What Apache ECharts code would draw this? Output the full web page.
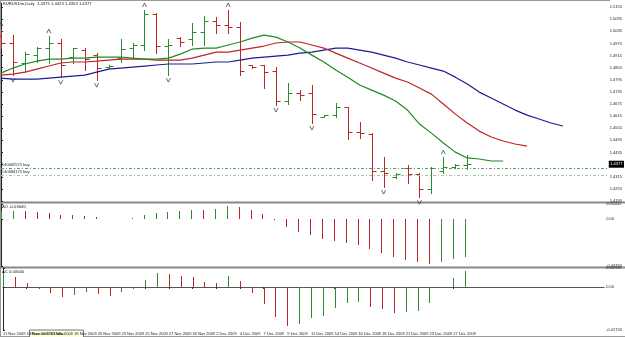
<!DOCTYPE html>
<html>
<head>
<meta charset="utf-8">
<script src="https://cdn.jsdelivr.net/npm/echarts@6.0.0/dist/echarts.min.js"></script>
<style>
  html, body { margin: 0; padding: 0; background: #fff; }
  #chart { width: 625px; height: 337px; }
</style>
</head>
<body>
<div id="chart"></div>
<script>
// EURUSDm daily bars, 11 Nov - 28 Dec 2009 (incl. sunday bars)
var dates = ['11 Nov 2009','12 Nov 2009','13 Nov 2009','15 Nov 2009','16 Nov 2009','17 Nov 2009','18 Nov 2009','19 Nov 2009',
  '20 Nov 2009','22 Nov 2009','23 Nov 2009','24 Nov 2009','25 Nov 2009','26 Nov 2009','27 Nov 2009','29 Nov 2009',
  '30 Nov 2009','1 Dec 2009','2 Dec 2009','3 Dec 2009','4 Dec 2009','6 Dec 2009','7 Dec 2009','8 Dec 2009',
  '9 Dec 2009','10 Dec 2009','11 Dec 2009','13 Dec 2009','14 Dec 2009','15 Dec 2009','16 Dec 2009','17 Dec 2009',
  '18 Dec 2009','20 Dec 2009','21 Dec 2009','22 Dec 2009','23 Dec 2009','24 Dec 2009','27 Dec 2009','28 Dec 2009'];

var open  = [1.5011,1.4977,1.4878,1.4917,1.4952,1.4977,1.4907,1.4942,1.4917,1.4858,1.4902,1.4952,1.4967,1.5120,1.4962,1.5001,1.4997,1.5031,1.5086,1.5066,
             1.5056,1.4868,1.4868,1.4838,1.4690,1.4729,1.4729,1.4611,1.4620,1.4660,1.4536,1.4526,1.4343,1.4314,1.4358,1.4328,1.4254,1.4343,1.4363,1.4375];
var high  = [1.5046,1.5016,1.4932,1.4957,1.5011,1.4997,1.4952,1.4952,1.4927,1.4868,1.4997,1.4977,1.5140,1.5125,1.4997,1.5006,1.5076,1.5110,1.5106,1.5140,
             1.5081,1.4868,1.4868,1.4858,1.4779,1.4744,1.4769,1.4620,1.4680,1.4660,1.4586,1.4531,1.4412,1.4333,1.4373,1.4333,1.4363,1.4412,1.4378,1.4423];
var low   = [1.4952,1.4818,1.4833,1.4883,1.4878,1.4808,1.4878,1.4843,1.4793,1.4853,1.4883,1.4907,1.4942,1.4927,1.4818,1.4962,1.4967,1.4967,1.5026,1.5026,
             1.4818,1.4853,1.4754,1.4670,1.4675,1.4695,1.4581,1.4611,1.4611,1.4502,1.4507,1.4299,1.4264,1.4309,1.4284,1.4214,1.4234,1.4333,1.4358,1.4353];
var close = [1.4977,1.4883,1.4922,1.4952,1.4977,1.4868,1.4952,1.4897,1.4853,1.4863,1.4947,1.4967,1.5120,1.4962,1.4967,1.4982,1.5031,1.5086,1.5066,1.5056,
             1.4838,1.4858,1.4833,1.4690,1.4729,1.4719,1.4625,1.4620,1.4660,1.4536,1.4531,1.4343,1.4333,1.4328,1.4328,1.4254,1.4358,1.4363,1.4373,1.4377];

// alligator lines (already shifted: lips +3, teeth +5, jaw +8)
var lips  = [1.4828,1.4853,1.4873,1.4887,1.4897,1.4897,1.4902,1.4902,1.4907,1.4907,1.4907,1.4902,1.4897,1.4897,1.4902,1.4922,1.4947,1.4952,1.4952,1.4967,
             1.4982,1.5001,1.5016,1.5006,1.4982,1.4952,1.4917,1.4883,1.4843,1.4808,1.4769,1.4744,1.4719,1.4690,1.4645,1.4576,1.4531,1.4482,1.4437,1.4408,
             1.4403,1.4393,1.4393];
var teeth = [1.4818,1.4823,1.4833,1.4848,1.4863,1.4878,1.4883,1.4883,1.4887,1.4892,1.4897,1.4897,1.4897,1.4892,1.4892,1.4892,1.4902,1.4917,1.4932,1.4932,
             1.4942,1.4952,1.4962,1.4977,1.4982,1.4982,1.4967,1.4952,1.4927,1.4902,1.4878,1.4853,1.4828,1.4803,1.4784,1.4754,1.4724,1.4675,1.4625,1.4581,
             1.4541,1.4512,1.4492,1.4477,1.4467];
var jaw   = [1.4803,1.4798,1.4798,1.4798,1.4803,1.4808,1.4813,1.4818,1.4833,1.4848,1.4853,1.4858,1.4863,1.4868,1.4873,1.4873,1.4873,1.4878,1.4883,1.4883,
             1.4892,1.4902,1.4907,1.4912,1.4917,1.4927,1.4932,1.4942,1.4952,1.4952,1.4942,1.4932,1.4917,1.4902,1.4883,1.4868,1.4853,1.4838,1.4808,1.4774,
             1.4734,1.4705,1.4675,1.4645,1.4620,1.4601,1.4581,1.4566];

// fractals (bar indexes)
var fractUp   = [0, 4, 12, 19, 37];
var fractDown = [1, 5, 8, 14, 23, 26, 32, 35];

// open orders
var orderPrices = [1.4358, 1.4323];
var orderNames  = ['#40082575 buy', '#40084175 buy'];

// awesome / accelerator oscillators
var ao = [0.0064,0.0065,0.0062,0.0056,0.0048,0.0033,0.0031,0.0024,0.0016,0.0003,0.0004,0.0006,0.0032,0.0048,0.0056,0.0064,0.0072,0.0070,0.0080,0.0104,
          0.0096,0.0072,0.0040,-0.0008,-0.0064,-0.0104,-0.0128,-0.0160,-0.0176,-0.0192,-0.0208,-0.0240,-0.0272,-0.0304,-0.0328,-0.0344,-0.0360,-0.0344,-0.0320,-0.0304];
var ac = [0.0056,0.0040,0.0016,-0.0008,-0.0024,-0.0040,-0.0032,-0.0020,-0.0028,-0.0036,-0.0020,-0.0008,0.0028,0.0056,0.0052,0.0044,0.0040,0.0020,0.0016,0.0044,
          0.0024,-0.0024,-0.0068,-0.0120,-0.0156,-0.0148,-0.0124,-0.0116,-0.0084,-0.0064,-0.0060,-0.0080,-0.0088,-0.0104,-0.0100,-0.0096,-0.0064,-0.0004,0.0036,0.0064];

var priceTicks = { min: 1.4195, max: 1.5175, step: 0.006 };
var aoRange = { min: -0.0376, max: 0.012 };
var acRange = { min: -0.0172, max: 0.0076 };

var UP = '#2f8a2f', DOWN = '#b82a2a';
var FONT = 'Liberation Sans';
var last = close.length - 1;

function pairs(arr) {
	var out = [];
	for (var i = 0; i < arr.length; i++) out.push([i, arr[i]]);
	return out;
}

var ohlc = [];
for (var i = 0; i < close.length; i++) {
	ohlc.push([i, open[i], high[i], low[i], close[i]]);
}

// histogram colour: green when rising
function histColors(arr) {
	var c = [];
	for (var i = 0; i < arr.length; i++) {
		c.push(i === 0 || arr[i] >= arr[i - 1] ? UP : DOWN);
	}
	return c;
}
var aoColors = histColors(ao);
var acColors = histColors(ac);

function renderBar(params, api) {
	var x = api.value(0);
	var pH = api.coord([x, api.value(2)]);
	var pL = api.coord([x, api.value(3)]);
	var pO = api.coord([x, api.value(1)]);
	var pC = api.coord([x, api.value(4)]);
	var cx = Math.round(pH[0]) + 0.5;
	var col = api.value(4) >= api.value(1) ? UP : DOWN;
	var st = { stroke: col, lineWidth: 1 };
	var yo = Math.round(pO[1]) + 0.5, yc = Math.round(pC[1]) + 0.5;
	return {
		type: 'group',
		children: [
			{ type: 'line', shape: { x1: cx, y1: Math.round(pH[1]), x2: cx, y2: Math.round(pL[1]) + 1 }, style: st },
			{ type: 'line', shape: { x1: cx - 4, y1: yo, x2: cx, y2: yo }, style: st },
			{ type: 'line', shape: { x1: cx, y1: yc, x2: cx + 4, y2: yc }, style: st }
		]
	};
}

function histRender(colors) {
	return function (params, api) {
		var i = api.value(0);
		var p0 = api.coord([i, 0]);
		var p1 = api.coord([i, api.value(1)]);
		var x = Math.round(p0[0]) + 0.5;
		return {
			type: 'line',
			shape: { x1: x, y1: Math.round(p0[1]), x2: x, y2: Math.round(p1[1]) },
			style: { stroke: colors[params.dataIndex], lineWidth: 1 }
		};
	};
}

var dateTicks = [];
for (var i = 0; i < dates.length; i += 2) dateTicks.push(i);

function xAxisFor(gi, showLabels) {
	return {
		type: 'value', gridIndex: gi, min: 0, max: 50.75,
		show: showLabels,
		axisLine: { show: true, lineStyle: { color: '#555', width: 1 } },
		axisTick: { show: true, length: 2, customValues: dateTicks, lineStyle: { color: '#333' } },
		axisLabel: {
			show: true, customValues: dateTicks, fontSize: 4, color: '#222', fontFamily: FONT,
			align: 'left', margin: 1.5,
			formatter: function (v) { return dates[Math.round(v)] || ''; }
		},
		splitLine: { show: false }
	};
}

function oscAxis(gi, range) {
	return {
		type: 'value', gridIndex: gi, position: 'right', min: range.min, max: range.max,
		axisLine: { show: true, lineStyle: { color: '#222' } },
		axisTick: { show: true, length: 2, customValues: [range.max, 0, range.min] },
		axisLabel: {
			customValues: [range.max, 0, range.min], fontSize: 4, color: '#222', fontFamily: FONT, margin: 2,
			formatter: function (v) { return v === 0 ? '0.00' : v.toFixed(5); }
		},
		splitLine: { show: false }
	};
}

var chartObj = echarts.init(document.getElementById('chart'), null, { renderer: 'canvas' });

var option = {
	animation: false,
	backgroundColor: '#fff',
	textStyle: { fontFamily: FONT },
	grid: [
		{ left: 1, right: 15, top: 3, height: 198 },
		{ left: 1, right: 15, top: 204, height: 62 },
		{ left: 1, right: 15, top: 268, height: 62 }
	],
	xAxis: [xAxisFor(0, false), xAxisFor(1, false), xAxisFor(2, true)],
	yAxis: [
		{
			type: 'value', gridIndex: 0, position: 'right',
			min: priceTicks.min, max: priceTicks.max, interval: priceTicks.step,
			axisLine: { show: true, lineStyle: { color: '#222' } },
			axisTick: { show: true, length: 2 },
			axisLabel: {
				fontSize: 4, color: '#222', fontFamily: FONT, margin: 2, showMaxLabel: false,
				formatter: function (v) { return v.toFixed(4); }
			},
			splitLine: { show: false }
		},
		oscAxis(1, aoRange),
		oscAxis(2, acRange)
	],
	series: [
		{
			name: 'Jaw', type: 'line', xAxisIndex: 0, yAxisIndex: 0, data: pairs(jaw),
			showSymbol: false, lineStyle: { color: '#1c1c96', width: 1.2 }
		},
		{
			name: 'Teeth', type: 'line', xAxisIndex: 0, yAxisIndex: 0, data: pairs(teeth),
			showSymbol: false, lineStyle: { color: '#c02424', width: 1.2 }
		},
		{
			name: 'Lips', type: 'line', xAxisIndex: 0, yAxisIndex: 0, data: pairs(lips),
			showSymbol: false, lineStyle: { color: '#228a22', width: 1.2 },
			markLine: {
				silent: true, symbol: 'none', precision: 5,
				lineStyle: { type: [3, 2, 1, 2], width: 1 },
				label: { show: true, position: 'insideStartTop', fontSize: 4, color: '#222', distance: 1, fontFamily: FONT },
				data: [
					{ yAxis: orderPrices[0], lineStyle: { color: '#5c9c5c' }, label: { formatter: orderNames[0] } },
					{ yAxis: orderPrices[1], lineStyle: { color: '#9cc89c' }, label: { formatter: orderNames[1] } },
					{
						yAxis: close[last], lineStyle: { color: 'rgba(0,0,0,0)' },
						label: {
							position: 'end', formatter: close[last].toFixed(4), distance: 1,
							backgroundColor: '#000', color: '#fff', padding: [1.5, 1.5], fontSize: 4
						}
					}
				]
			}
		},
		{
			name: 'EURUSDm', type: 'custom', xAxisIndex: 0, yAxisIndex: 0,
			renderItem: renderBar, data: ohlc, encode: { x: 0, y: [1, 2, 3, 4] }
		},
		{
			name: 'FractUp', type: 'scatter', xAxisIndex: 0, yAxisIndex: 0,
			data: fractUp.map(function (i) { return [i, high[i]]; }),
			symbol: 'path://M0,10L5,0L10,10', symbolSize: [4, 4], symbolOffset: [0, -5],
			itemStyle: { color: 'none', borderColor: '#444', borderWidth: 1 }
		},
		{
			name: 'FractDown', type: 'scatter', xAxisIndex: 0, yAxisIndex: 0,
			data: fractDown.map(function (i) { return [i, low[i]]; }),
			symbol: 'path://M0,0L5,10L10,0', symbolSize: [4, 4], symbolOffset: [0, 5],
			itemStyle: { color: 'none', borderColor: '#444', borderWidth: 1 }
		},
		{
			name: 'AO', type: 'custom', xAxisIndex: 1, yAxisIndex: 1,
			renderItem: histRender(aoColors), data: pairs(ao), encode: { x: 0, y: 1 }
		},
		{
			name: 'AC', type: 'custom', xAxisIndex: 2, yAxisIndex: 2,
			renderItem: histRender(acColors), data: pairs(ac), encode: { x: 0, y: 1 }
		}
	],
	graphic: [
		// frame + panel separators
		{ type: 'rect', shape: { x: 0, y: 0, width: 610, height: 1 }, style: { fill: '#999' } },
		{ type: 'rect', shape: { x: 0, y: 0, width: 1, height: 337 }, style: { fill: '#999' } },
		{ type: 'rect', shape: { x: 0, y: 201.5, width: 625, height: 2 }, style: { fill: '#888' } },
		{ type: 'rect', shape: { x: 0, y: 266.5, width: 625, height: 2 }, style: { fill: '#888' } },
		{ type: 'rect', shape: { x: 0, y: 336, width: 625, height: 1 }, style: { fill: '#999' } },
		{
			type: 'text', left: 3, top: 1.5,
			style: {
				text: 'EURUSDm,Daily  ' + [open[last], high[last], low[last], close[last]].map(function (v) { return v.toFixed(4); }).join(' '),
				fontSize: 4.2, fill: '#222', fontFamily: FONT
			}
		},
		{ type: 'text', left: 2, top: 205, style: { text: 'AO ' + ao[last].toFixed(5), fontSize: 4.2, fill: '#222', fontFamily: FONT } },
		{ type: 'text', left: 2, top: 269.5, style: { text: 'AC ' + ac[last].toFixed(5), fontSize: 4.2, fill: '#222', fontFamily: FONT } },
		// hover tooltip left on the screenshot
		{
			type: 'group', left: 29, top: 329.5,
			children: [
				{ type: 'rect', shape: { x: 0, y: 0, width: 54, height: 9 }, style: { fill: '#ffffe1', stroke: '#777', lineWidth: 1 } },
				{ type: 'text', x: 2, y: 1.5, style: { text: 'Euro vs US Dollar', fontSize: 4.2, fill: '#111', fontFamily: FONT } }
			]
		}
	]
};

chartObj.setOption(option);
</script>
</body>
</html>
